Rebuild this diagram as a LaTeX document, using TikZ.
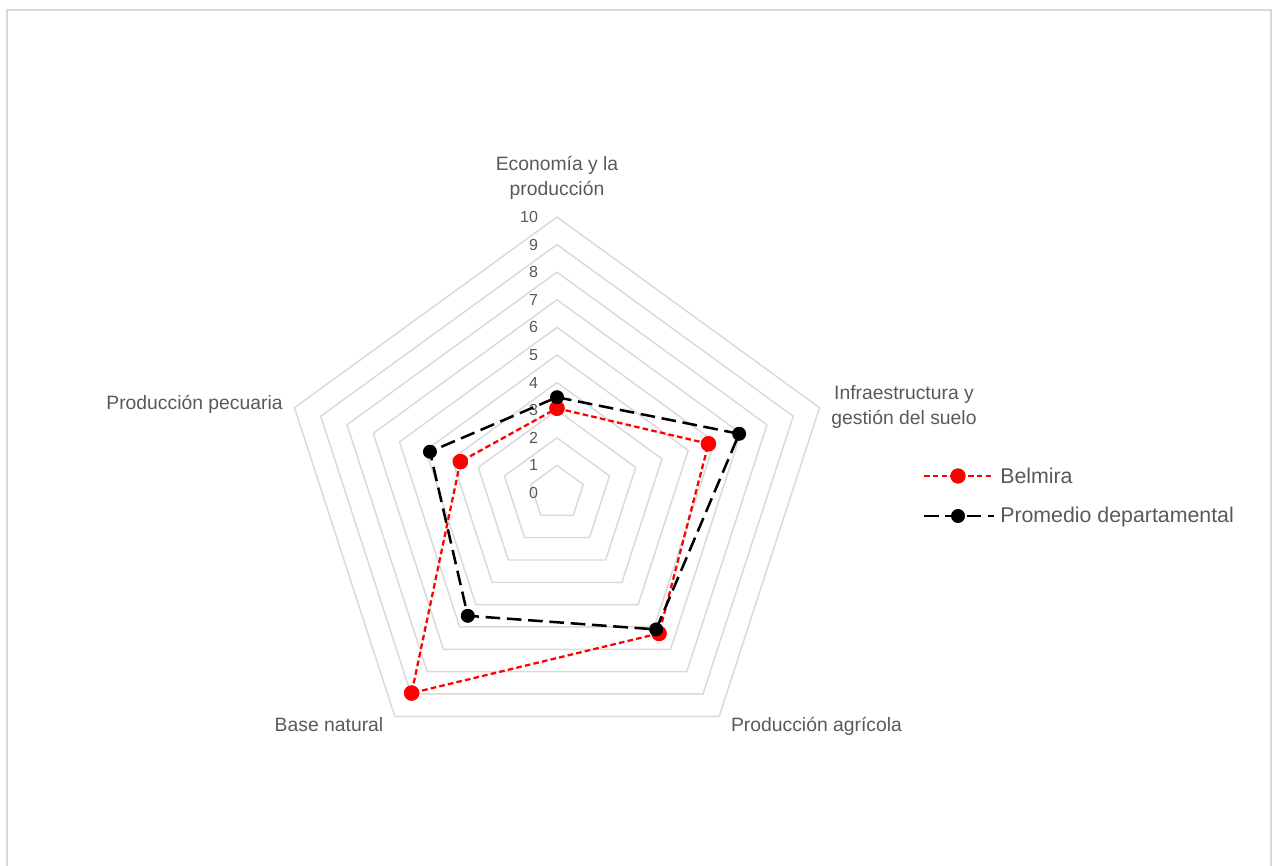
\documentclass[tikz,border=0pt]{standalone}
\usepackage{fontspec}
\setmainfont{Liberation Sans}
\definecolor{textogris}{HTML}{595959}
\definecolor{rejilla}{HTML}{D9D9D9}

\begin{document}
\begin{tikzpicture}[x=0.75pt, y=0.75pt]

	\tikzstyle{etiqueta}=[text=textogris, font=\fontsize{14.5}{18.75}\selectfont, align=center, inner sep=0pt, anchor=base]
	\tikzstyle{escala}=[text=textogris, font=\fontsize{12}{14}\selectfont, anchor=east, inner sep=0pt]
	\tikzstyle{leyenda}=[text=textogris, font=\fontsize{16}{19}\selectfont, anchor=base west, inner sep=0pt]
	\tikzstyle{malla}=[rejilla, line width=1.1pt, line join=round]
	\tikzstyle{serie_b}=[red, line width=1.7pt, dash pattern=on 4.2pt off 2.4pt]
	\tikzstyle{serie_p}=[black, line width=1.9pt, dash pattern=on 11pt off 5pt]
	\tikzstyle{punto_b}=[circle, fill=red, inner sep=0pt, minimum size=11.5pt]
	\tikzstyle{punto_p}=[circle, fill=black, inner sep=0pt, minimum size=10.5pt]

	\useasboundingbox (0,0) rectangle (1272,865);
	\clip (0,0) rectangle (1272,865);
	\draw[rejilla, line width=1.5pt] (7,-20) rectangle (1270.5,855);

	\coordinate (centro) at (557,372);

	\begin{scope}[shift={(centro)}, x=20.7pt, y=20.7pt]
	%%%%%%%% MALLA %%%%%%%%
	\draw[malla] (90:1) -- (18:1) -- (-54:1) -- (-126:1) -- (162:1) -- cycle;
	\draw[malla] (90:2) -- (18:2) -- (-54:2) -- (-126:2) -- (162:2) -- cycle;
	\draw[malla] (90:3) -- (18:3) -- (-54:3) -- (-126:3) -- (162:3) -- cycle;
	\draw[malla] (90:4) -- (18:4) -- (-54:4) -- (-126:4) -- (162:4) -- cycle;
	\draw[malla] (90:5) -- (18:5) -- (-54:5) -- (-126:5) -- (162:5) -- cycle;
	\draw[malla] (90:6) -- (18:6) -- (-54:6) -- (-126:6) -- (162:6) -- cycle;
	\draw[malla] (90:7) -- (18:7) -- (-54:7) -- (-126:7) -- (162:7) -- cycle;
	\draw[malla] (90:8) -- (18:8) -- (-54:8) -- (-126:8) -- (162:8) -- cycle;
	\draw[malla] (90:9) -- (18:9) -- (-54:9) -- (-126:9) -- (162:9) -- cycle;
	\draw[malla] (90:10) -- (18:10) -- (-54:10) -- (-126:10) -- (162:10) -- cycle;

	%%%%%%%% ESCALA %%%%%%%%
	\node[escala] (e_0) at (-0.68,0) {0};
	\node[escala] (e_1) at (-0.68,1) {1};
	\node[escala] (e_2) at (-0.68,2) {2};
	\node[escala] (e_3) at (-0.68,3) {3};
	\node[escala] (e_4) at (-0.68,4) {4};
	\node[escala] (e_5) at (-0.68,5) {5};
	\node[escala] (e_6) at (-0.68,6) {6};
	\node[escala] (e_7) at (-0.68,7) {7};
	\node[escala] (e_8) at (-0.68,8) {8};
	\node[escala] (e_9) at (-0.68,9) {9};
	\node[escala] (e_10) at (-0.68,10) {10};

	\coordinate (b_1) at (90:3.07); % BELMIRA
	\coordinate (b_2) at (18:5.77); % BELMIRA
	\coordinate (b_3) at (-54:6.29); % BELMIRA
	\coordinate (b_4) at (-126:8.96); % BELMIRA
	\coordinate (b_5) at (162:3.68); % BELMIRA
	\coordinate (p_1) at (90:3.47); % PROMEDIO
	\coordinate (p_2) at (18:6.94); % PROMEDIO
	\coordinate (p_3) at (-54:6.11); % PROMEDIO
	\coordinate (p_4) at (-126:5.5); % PROMEDIO
	\coordinate (p_5) at (162:4.84); % PROMEDIO
	\end{scope}

	%%%%%%%% EJES %%%%%%%%
	\node[etiqueta] (eje_1) at (557,669) {Economía y la\\producción};
	\node[etiqueta] (eje_2) at (904,440) {Infraestructura y\\gestión del suelo};
	\node[etiqueta] (eje_3) at (816.5,133.3) {Producción agrícola};
	\node[etiqueta] (eje_4) at (329,133.3) {Base natural};
	\node[etiqueta] (eje_5) at (194.5,455) {Producción pecuaria};

	%%%%%%%% BELMIRA %%%%%%%%
	\node[punto_b] (b_1) at (b_1) {};
	\node[punto_b] (b_2) at (b_2) {};
	\node[punto_b] (b_3) at (b_3) {};
	\node[punto_b] (b_4) at (b_4) {};
	\node[punto_b] (b_5) at (b_5) {};
	\draw[serie_b] (b_1.center) -- (b_2.center) -- (b_3.center) -- (b_4.center) -- (b_5.center) -- cycle;
	\node[punto_b] at (b_1) {};
	\node[punto_b] at (b_2) {};
	\node[punto_b] at (b_3) {};
	\node[punto_b] at (b_4) {};
	\node[punto_b] at (b_5) {};

	%%%%%%%% PROMEDIO DEPARTAMENTAL %%%%%%%%
	\draw[serie_p] (p_1) -- (p_2) -- (p_3) -- (p_4) -- (p_5) -- cycle;
	\node[punto_p] (p_1) at (p_1) {};
	\node[punto_p] (p_2) at (p_2) {};
	\node[punto_p] (p_3) at (p_3) {};
	\node[punto_p] (p_4) at (p_4) {};
	\node[punto_p] (p_5) at (p_5) {};

	%%%%%%%% LEYENDA %%%%%%%%
	\coordinate (lb_a) at (924,389);
	\coordinate (lb_b) at (994,389);
	\coordinate (lp_a) at (924,349);
	\coordinate (lp_b) at (994,349);
	\draw[serie_b] (lb_a) -- (lb_b);
	\node[punto_b] (lb_m) at (958,389) {};
	\draw[serie_p] (lp_a) -- (lp_b);
	\node[punto_p] (lp_m) at (958,349) {};
	\node[leyenda] (ley_b) at (1000,381.7) {Belmira};
	\node[leyenda] (ley_p) at (1000,342) {Promedio departamental};
\end{tikzpicture}
\end{document}
